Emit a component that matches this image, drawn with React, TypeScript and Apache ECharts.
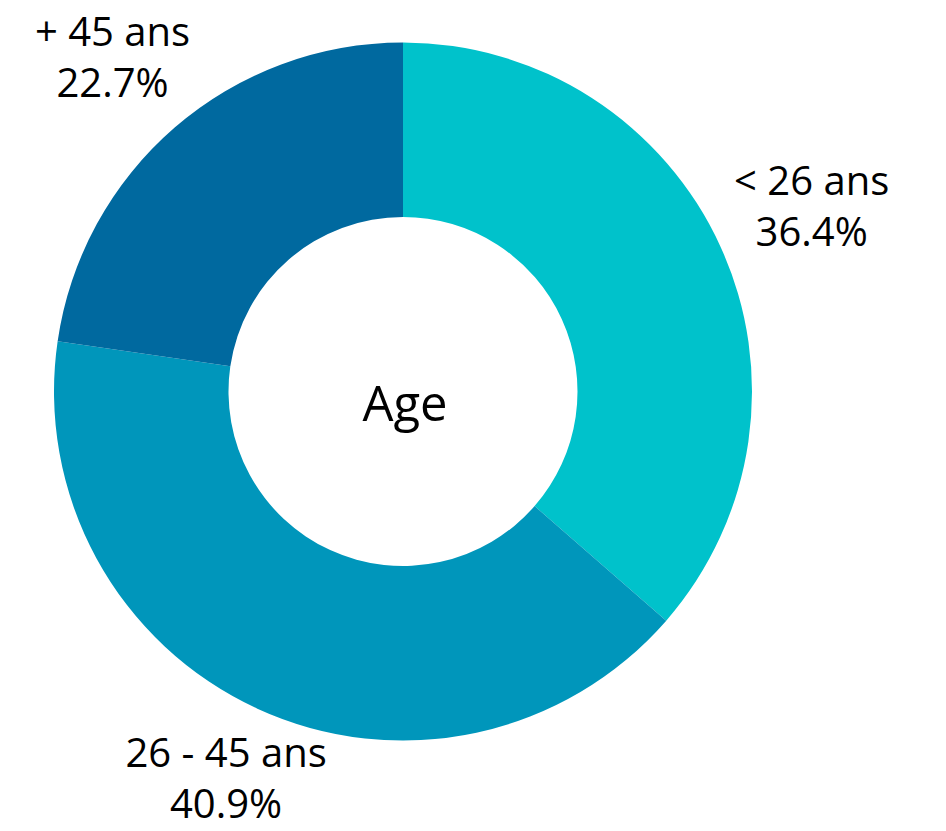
import React, { useEffect, useRef } from "react";
import * as echarts from "echarts";

const categories = ["< 26 ans", "26 - 45 ans", "+ 45 ans"];
const values = [36.4, 40.9, 22.7];
const colors = ["#00C2CB", "#0096BB", "#00699F"];
const centerTitle = "Age";

export default function App() {
  const ref = useRef<HTMLDivElement>(null);
  useEffect(() => {
    if (!ref.current) return;
    const chart = echarts.init(ref.current, null, { renderer: "svg" });
    const cx = 403;
    const cy = 391.5;
    const total = values.reduce((a, b) => a + b, 0);
    const labelDist = [449, 424, 444];
    const mids: number[] = [];
    let acc = 0;
    values.forEach((v) => {
      mids.push(((acc + v / 2) / total) * Math.PI * 2);
      acc += v;
    });
    chart.setOption({
      animation: false,
      graphic: [
        {
          type: "text",
          x: 405,
          y: 402,
          style: {
            text: centerTitle,
            fontFamily: "Open Sans",
            fontSize: 49,
            fill: "#000",
            align: "center",
            verticalAlign: "middle",
          },
        },
      ],
      series: [
        {
          type: "pie",
          center: [cx, cy],
          radius: [174.5, 349],
          startAngle: 90,
          clockwise: true,
          data: categories.map((name, i) => ({
            name,
            value: values[i],
            itemStyle: { color: colors[i] },
          })),
          label: {
            show: true,
            position: "outside",
            formatter: (p: any) => `${p.name}\n${p.value.toFixed(1)}%`,
            fontFamily: "Open Sans",
            fontSize: 40,
            lineHeight: 51,
            color: "#000",
            align: "center",
            overflow: "none",
          },
          labelLine: { show: false },
          labelLayout: (p: any) => {
            const i = p.dataIndex;
            const a = mids[i];
            return {
              x: cx + Math.sin(a) * labelDist[i],
              y: cy - Math.cos(a) * labelDist[i],
              align: "center",
              verticalAlign: "middle",
            };
          },
          emphasis: { disabled: true },
        },
      ],
    });
    return () => chart.dispose();
  }, []);
  return (
    <div
      ref={ref}
      style={{ position: "fixed", left: 0, top: 0, width: 946, height: 831, background: "#fff" }}
    />
  );
}
